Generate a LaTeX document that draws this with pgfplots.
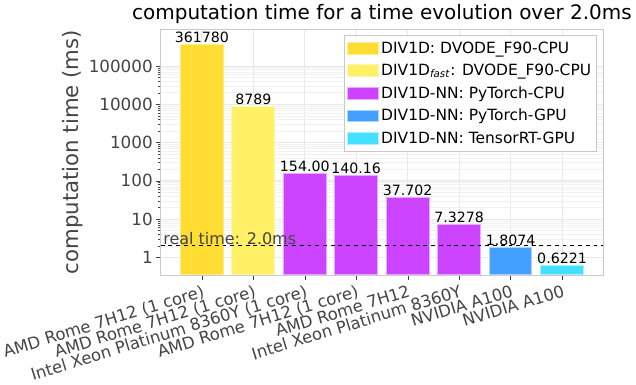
\documentclass[border=0pt]{standalone}
\usepackage{fontspec}
\setmainfont{DejaVu Sans}
\usepackage{pgfplots}
\pgfplotsset{compat=1.18}
\definecolor{cgold}{RGB}{255,221,51}
\definecolor{cyel}{RGB}{255,240,102}
\definecolor{cpur}{RGB}{204,68,255}
\definecolor{cblu}{RGB}{68,160,255}
\definecolor{ccya}{RGB}{68,224,255}
\definecolor{txt}{RGB}{68,68,68}
\definecolor{gridc}{RGB}{232,232,232}
\definecolor{axc}{RGB}{200,200,200}
\begin{document}
\begin{tikzpicture}
\begin{axis}[
    scale only axis,
    width=343.5pt, height=190.5pt,
    ymode=log, log origin=infty,
    xmin=-0.8, xmax=7.8, ymin=0.35, ymax=9e5,
    ybar, bar width=0.83, bar shift=0pt,
    xtick={0,...,7},
    xticklabels={AMD Rome 7H12 (1 core), AMD Rome 7H12 (1 core), Intel Xeon Platinum 8360Y (1 core), AMD Rome 7H12 (1 core), AMD Rome 7H12, Intel Xeon Platinum 8360Y, NVIDIA A100, NVIDIA A100},
    xticklabel style={rotate=17, anchor=north east, font=\fontsize{12.8}{14}\selectfont, text=txt, inner sep=1pt, yshift=-2pt},
    ytick={1,10,100,1000,10000,100000},
    yticklabels={1,10,100,1000,10000,100000},
    yticklabel style={font=\fontsize{13}{14}\selectfont, text=txt, inner sep=2pt},
    ylabel={computation time (ms)},
    ylabel style={font=\fontsize{16.5}{17}\selectfont, text=txt, yshift=-1pt},
    title={computation time for a time evolution over 2.0ms},
    title style={font=\fontsize{15.5}{16}\selectfont, yshift=-5pt},
    axis line style={axc},
    tick style={txt},
    xtick pos=bottom, ytick pos=left,
    tick align=outside,
    major tick length=4pt, minor tick length=2pt,
    minor tick style={txt, line width=0.3pt},
    xmajorgrids, ymajorgrids, yminorgrids,
    major grid style={gridc, line width=0.6pt},
    minor grid style={gridc!60, line width=0.4pt},
    point meta=explicit symbolic,
    nodes near coords={\pgfplotspointmeta},
    nodes near coords style={font=\fontsize{11}{12}\selectfont, black, inner sep=1pt},
    legend cell align=left,
    legend style={at={(0.985,0.978)}, anchor=north east, draw=axc, fill=white,
        font=\fontsize{12}{13}\selectfont, text=black, row sep=5pt, inner xsep=2pt, inner ysep=4pt,
        nodes={inner xsep=2pt, inner ysep=1pt},
        /tikz/every even column/.append style={column sep=5pt}},
    legend image code/.code={\draw[#1, bar width=0pt, bar shift=0pt] (0pt,-4.5pt) rectangle (24pt,4.5pt);},
]
\addplot[fill=cgold, draw=cgold!55!white, line width=0.8pt] coordinates {(0,361780) [361780]};
\addlegendentry{DIV1D: DVODE\_F90-CPU}
\addplot[fill=cyel, draw=cyel!55!white, line width=0.8pt] coordinates {(1,8789) [8789]};
\addlegendentry{DIV1D\textsubscript{\textit{fast}}: DVODE\_F90-CPU}
\addplot[fill=cpur, draw=cpur!45!white, line width=0.8pt] coordinates {(2,154.00) [154.00] (3,140.16) [140.16] (4,37.702) [37.702] (5,7.3278) [7.3278]};
\addlegendentry{DIV1D-NN: PyTorch-CPU}
\addplot[fill=cblu, draw=cblu!45!white, line width=0.8pt] coordinates {(6,1.8074) [1.8074]};
\addlegendentry{DIV1D-NN: PyTorch-GPU}
\addplot[fill=ccya, draw=ccya!45!white, line width=0.8pt] coordinates {(7,0.6221) [0.6221]};
\addlegendentry{DIV1D-NN: TensorRT-GPU}
\addplot[sharp plot, black, dashed, line width=0.9pt, nodes near coords={}, forget plot, update limits=false] coordinates {(-0.8,2) (7.8,2)};
\node[anchor=south west, text=txt, font=\fontsize{12.4}{13}\selectfont, inner sep=1pt] at (axis cs:-0.78,2) {real time: 2.0ms};
\end{axis}
\end{tikzpicture}
\end{document}
